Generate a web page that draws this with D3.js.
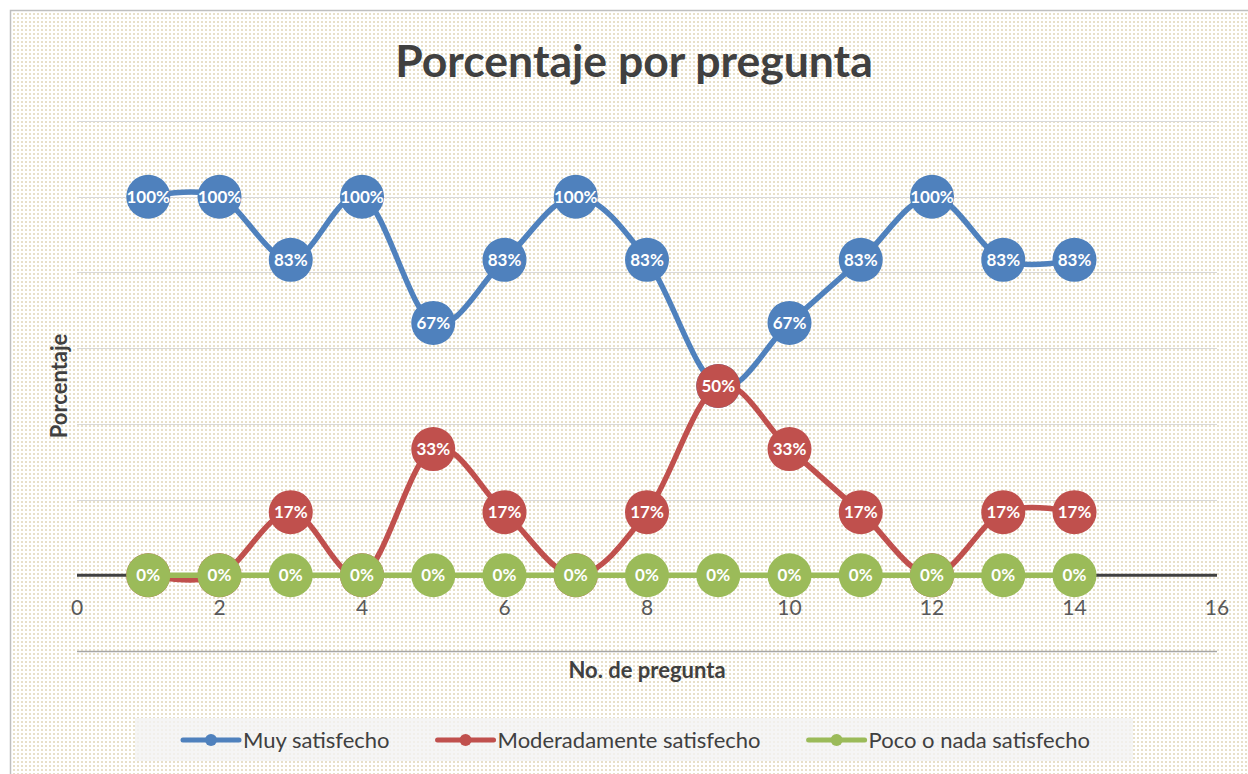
<!DOCTYPE html>
<html>
<head>
<meta charset="utf-8">
<script src="https://cdn.jsdelivr.net/npm/d3@7"></script>
<style>
  body { margin: 0; background: #fff; }
  svg { display: block; font-family: Lato, "Open Sans", sans-serif; }
</style>
</head>
<body>
<div id="chart"></div>
<script>
var width = 1248,
    height = 774;

// data
var preguntas = [1, 2, 3, 4, 5, 6, 7, 8, 9, 10, 11, 12, 13, 14];
var muySatisfecho = [1, 1, 0.8333, 1, 0.6667, 0.8333, 1, 0.8333, 0.5, 0.6667, 0.8333, 1, 0.8333, 0.8333];
var moderadamente = [0, 0, 0.1667, 0, 0.3333, 0.1667, 0, 0.1667, 0.5, 0.3333, 0.1667, 0, 0.1667, 0.1667];
var pocoNada = [0, 0, 0, 0, 0, 0, 0, 0, 0, 0, 0, 0, 0, 0];
var seriesNames = ["Muy satisfecho", "Moderadamente satisfecho", "Poco o nada satisfecho"];
var seriesColors = ["#4f81bd", "#c0504d", "#9bbb59"];
var xTicks = [0, 2, 4, 6, 8, 10, 12, 14, 16];
var yGrid = [-0.2, 0.2, 0.4, 0.6, 0.8, 1, 1.2];

var series = [muySatisfecho, moderadamente, pocoNada].map(function (vals, i) {
    return {
        name: seriesNames[i],
        color: seriesColors[i],
        points: preguntas.map(function (p, j) { return { x: p, y: vals[j] }; })
    };
});

var x = d3.scaleLinear().domain([0, 16]).range([77, 1217]);
var y = d3.scaleLinear().domain([-0.2, 1.2]).range([651, 121]);

var svg = d3.select("#chart").append("svg")
    .attr("width", width)
    .attr("height", height);

var defs = svg.append("defs");
var pat = defs.append("pattern")
    .attr("id", "dots")
    .attr("width", 4).attr("height", 4)
    .attr("patternUnits", "userSpaceOnUse");
pat.append("rect").attr("width", 4).attr("height", 4).attr("fill", "#fff");
pat.append("rect").attr("x", 1).attr("y", 1).attr("width", 2).attr("height", 2).attr("fill", "#e8e0c9");

// chart area
svg.append("rect")
    .attr("x", 10.5).attr("y", 10.5)
    .attr("width", 1260).attr("height", 790)
    .attr("fill", "url(#dots)")
    .attr("stroke", "#bfbfbf")
    .attr("stroke-width", 1.5);

// title
svg.append("text")
    .attr("x", 634).attr("y", 77)
    .attr("text-anchor", "middle")
    .attr("font-size", 44.5)
    .attr("font-weight", "bold")
    .attr("fill", "#404040")
    .text("Porcentaje por pregunta");

// gridlines
svg.append("g").selectAll("line")
    .data(yGrid)
    .enter().append("line")
    .attr("x1", x(0)).attr("x2", x(16))
    .attr("y1", function (d) { return Math.round(y(d)) + 0.5; })
    .attr("y2", function (d) { return Math.round(y(d)) + 0.5; })
    .attr("stroke", function (d) { return d < 0 ? "#a6a6a6" : "#d9d9d9"; })
    .attr("stroke-width", function (d) { return d < 0 ? 1.5 : 1.2; });

// zero axis line
svg.append("line")
    .attr("x1", x(0)).attr("x2", x(16))
    .attr("y1", y(0)).attr("y2", y(0))
    .attr("stroke", "#404040")
    .attr("stroke-width", 3);

// x axis tick labels
svg.append("g").selectAll("text")
    .data(xTicks)
    .enter().append("text")
    .attr("x", function (d) { return x(d); })
    .attr("y", 615)
    .attr("text-anchor", "middle")
    .attr("font-size", 21)
    .attr("fill", "#595959")
    .text(function (d) { return d; });

// axis titles
svg.append("text")
    .attr("x", 647).attr("y", 678)
    .attr("text-anchor", "middle")
    .attr("font-size", 22)
    .attr("font-weight", "bold")
    .attr("fill", "#404040")
    .text("No. de pregunta");

svg.append("text")
    .attr("transform", "translate(67,386) rotate(-90)")
    .attr("text-anchor", "middle")
    .attr("font-size", 22)
    .attr("font-weight", "bold")
    .attr("fill", "#404040")
    .text("Porcentaje");

var line = d3.line()
    .x(function (d) { return x(d.x); })
    .y(function (d) { return y(d.y); })
    .curve(d3.curveCatmullRom.alpha(0));

var fmt = d3.format(".0%");

series.forEach(function (s) {
    var g = svg.append("g");
    g.append("path")
        .datum(s.points)
        .attr("d", line)
        .attr("fill", "none")
        .attr("stroke", s.color)
        .attr("stroke-width", 5.5)
        .attr("stroke-linecap", "round");
    var pts = g.selectAll("g.pt")
        .data(s.points)
        .enter().append("g")
        .attr("class", "pt")
        .attr("transform", function (d) { return "translate(" + x(d.x) + "," + y(d.y) + ")"; });
    pts.append("circle")
        .attr("r", 22)
        .attr("fill", s.color);
    pts.append("text")
        .attr("y", 6)
        .attr("text-anchor", "middle")
        .attr("font-size", 17)
        .attr("font-weight", "bold")
        .attr("fill", "#fff")
        .text(function (d) { return fmt(d.y); });
});

// legend
svg.append("rect")
    .attr("x", 135).attr("y", 718)
    .attr("width", 998).attr("height", 43)
    .attr("fill", "#f2f2f2")
    .attr("opacity", 0.8);

var legend = svg.append("g");
var lx = 183;
series.forEach(function (s) {
    var item = legend.append("g").attr("transform", "translate(" + lx + ",740)");
    item.append("line")
        .attr("x1", 0).attr("x2", 56)
        .attr("stroke", s.color)
        .attr("stroke-width", 5)
        .attr("stroke-linecap", "round");
    item.append("circle").attr("cx", 28).attr("r", 6).attr("fill", s.color);
    var t = item.append("text")
        .attr("x", 60).attr("y", 8)
        .attr("font-size", 22)
        .attr("fill", "#404040")
        .text(s.name);
    lx += 60 + t.node().getComputedTextLength() + 48;
});
</script>
</body>
</html>
